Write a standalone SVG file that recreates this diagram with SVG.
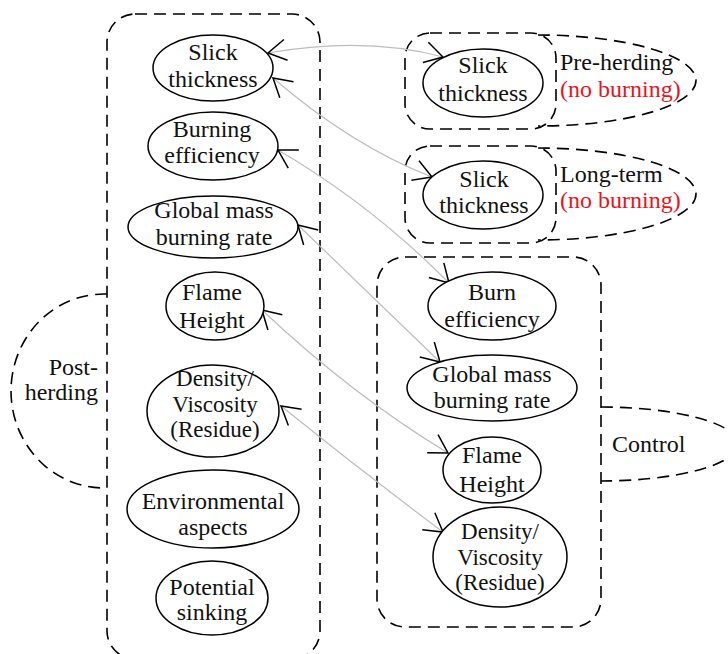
<svg xmlns="http://www.w3.org/2000/svg" width="728" height="654" viewBox="0 0 728 654">
<defs>
<marker id="arr" viewBox="-20 -12 22 24" refX="0" refY="0" markerWidth="22" markerHeight="24" markerUnits="userSpaceOnUse" orient="auto-start-reverse">
<path d="M-18,-10.5 L0,0 L-18,10.5" fill="none" stroke="#000" stroke-width="1.5"/>
</marker>
<style>
.grp{fill:none;stroke:#000;stroke-width:1.6;stroke-dasharray:12 7}
.nd{fill:#fff;stroke:#000;stroke-width:1.5}
.t{font-family:"Liberation Serif","Times New Roman",serif;font-size:24px;fill:#111;text-anchor:middle}
.s{font-size:23px}
.l{font-family:"Liberation Serif","Times New Roman",serif;font-size:24px;fill:#111}
.red{fill:#e8141c}
.cn{fill:none;stroke:#bdbdbd;stroke-width:1.2;marker-start:url(#arr);marker-end:url(#arr)}
</style>
</defs>
<rect width="728" height="654" fill="#fff"/>
<g id="groups">
<g id="post-herding-group">
<rect class="grp" x="107" y="14" width="213" height="645" rx="28"/>
<path class="grp" d="M107,294 L104,294 A93,97 0 0 0 104,488 L107,488"/>
<text class="l" x="98" y="375" text-anchor="end">Post-</text>
<text class="l" x="98" y="400" text-anchor="end">herding</text>
</g>
<g id="pre-herding-group">
<path class="grp" d="M538,35 A158,45.5 0 0 1 538,126"/>
<rect class="grp" x="405" y="33" width="151" height="96" rx="25"/>
<text class="l" x="560" y="70">Pre-herding</text>
<text class="l red" x="560" y="97">(no burning)</text>
</g>
<g id="long-term-group">
<path class="grp" d="M538,148 A158,46 0 0 1 538,240"/>
<rect class="grp" x="405" y="146" width="151" height="97" rx="25"/>
<text class="l" x="560" y="182">Long-term</text>
<text class="l red" x="560" y="208">(no burning)</text>
</g>
<g id="control-group">
<path class="grp" d="M601,407 A137,37 0 0 1 601,481"/>
<rect class="grp" x="377" y="257" width="224" height="370" rx="28"/>
<text class="l" x="612" y="452">Control</text>
</g>
</g>
<g id="connectors">
<path class="cn" d="M268,53 Q365,36 443,57"/>
<path class="cn" d="M273,78 Q352,146 432,177"/>
<path class="cn" d="M278,150 Q372,205 449,283"/>
<path class="cn" d="M298,225 Q360,285 440,362"/>
<path class="cn" d="M262,310 Q352,395 448,453"/>
<path class="cn" d="M281,406 Q360,470 443,532"/>
</g>
<g id="n-slick-post">
<ellipse class="nd" cx="213" cy="68" rx="60" ry="33"/>
<text class="t" x="213" y="60">Slick</text>
<text class="t" x="213" y="87">thickness</text>
</g>
<g id="n-burning-eff-post">
<ellipse class="nd" cx="213" cy="146" rx="65" ry="34"/>
<text class="t" x="212" y="137">Burning</text>
<text class="t" x="212" y="163">efficiency</text>
</g>
<g id="n-gmbr-post">
<ellipse class="nd" cx="213" cy="227" rx="85" ry="31"/>
<text class="t" x="214" y="218">Global mass</text>
<text class="t" x="214" y="245">burning rate</text>
</g>
<g id="n-flame-post">
<ellipse class="nd" cx="215" cy="306" rx="49" ry="34"/>
<text class="t" x="212" y="300">Flame</text>
<text class="t" x="212" y="328">Height</text>
</g>
<g id="n-density-post">
<ellipse class="nd" cx="213" cy="411" rx="66" ry="46"/>
<text class="t s" x="215" y="386">Density/</text>
<text class="t s" x="215" y="411.5">Viscosity</text>
<text class="t s" x="215" y="437">(Residue)</text>
</g>
<g id="n-env-post">
<ellipse class="nd" cx="213" cy="509" rx="86" ry="39"/>
<text class="t" x="213" y="509">Environmental</text>
<text class="t" x="213" y="535">aspects</text>
</g>
<g id="n-sinking-post">
<ellipse class="nd" cx="212" cy="598" rx="56" ry="37"/>
<text class="t" x="212" y="595">Potential</text>
<text class="t" x="212" y="620">sinking</text>
</g>
<g id="n-slick-pre">
<ellipse class="nd" cx="483" cy="83" rx="60" ry="34"/>
<text class="t" x="483" y="73">Slick</text>
<text class="t" x="483" y="101">thickness</text>
</g>
<g id="n-slick-long">
<ellipse class="nd" cx="483" cy="195" rx="60" ry="34"/>
<text class="t" x="484" y="187">Slick</text>
<text class="t" x="484" y="213">thickness</text>
</g>
<g id="n-burn-eff-ctrl">
<ellipse class="nd" cx="492" cy="306" rx="64" ry="34"/>
<text class="t" x="492" y="300">Burn</text>
<text class="t" x="492" y="327">efficiency</text>
</g>
<g id="n-gmbr-ctrl">
<ellipse class="nd" cx="492" cy="388" rx="85" ry="33"/>
<text class="t" x="492" y="382">Global mass</text>
<text class="t" x="492" y="408">burning rate</text>
</g>
<g id="n-flame-ctrl">
<ellipse class="nd" cx="492" cy="470" rx="49" ry="33"/>
<text class="t" x="492" y="463">Flame</text>
<text class="t" x="492" y="492">Height</text>
</g>
<g id="n-density-ctrl">
<ellipse class="nd" cx="500" cy="557" rx="67" ry="50"/>
<text class="t s" x="500" y="539">Density/</text>
<text class="t s" x="500" y="564.5">Viscosity</text>
<text class="t s" x="500" y="590">(Residue)</text>
</g>
</svg>
